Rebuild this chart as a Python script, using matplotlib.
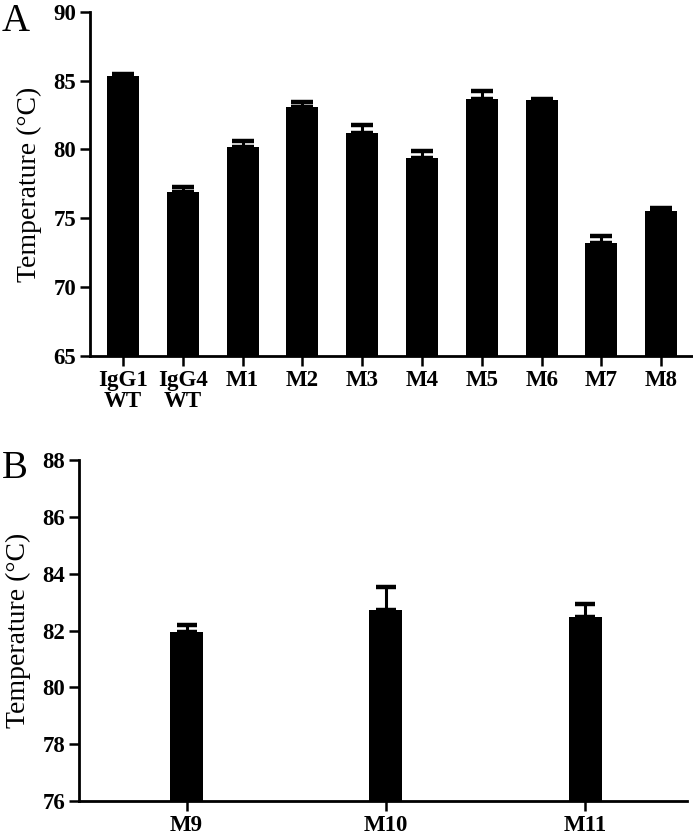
import numpy as np
import matplotlib.pyplot as plt

plt.rcParams['font.family'] = ['Liberation Serif', 'DejaVu Serif']

# panel A data
labels_a = ['IgG1\nWT', 'IgG4\nWT', 'M1', 'M2', 'M3', 'M4', 'M5', 'M6', 'M7', 'M8']
temp_a = [85.3, 76.9, 80.2, 83.1, 81.2, 79.4, 83.7, 83.6, 73.2, 75.5]
err_a = [0.2, 0.4, 0.4, 0.35, 0.6, 0.5, 0.55, 0.1, 0.55, 0.25]

# panel B data
labels_b = ['M9', 'M10', 'M11']
temp_b = [81.95, 82.72, 82.47]
err_b = [0.25, 0.8, 0.45]

fig = plt.figure(figsize=(6.93, 8.38), dpi=100)


def style(ax):
    for s in ['top', 'right']:
        ax.spines[s].set_visible(False)
    for s in ['left', 'bottom']:
        ax.spines[s].set_linewidth(2.0)
    ax.tick_params(direction='out', length=7, width=1.8, labelsize=16.5, pad=3)
    for lab in ax.get_xticklabels() + ax.get_yticklabels():
        lab.set_fontweight('bold')
    ax.set_ylabel('Temperature (°C)', fontsize=20, labelpad=8)


# ---- A ----
axA = fig.add_axes([0.130, 0.575, 0.870, 0.411])
xa = np.arange(len(labels_a))
axA.bar(xa, temp_a, width=0.535, color='black', bottom=0)
axA.errorbar(xa, temp_a, yerr=[np.zeros(len(err_a)), err_a], fmt='none',
             ecolor='black', elinewidth=2.2, capsize=8, capthick=3.2)
axA.set_ylim(65, 90)
axA.set_yticks([65, 70, 75, 80, 85, 90])
axA.set_xlim(-0.55, 9.53)
axA.set_xticks(xa)
axA.set_xticklabels(labels_a, linespacing=1.0)
style(axA)
fig.text(0.003, 0.997, 'A', fontsize=28, va='top', ha='left')

# ---- B ----
axB = fig.add_axes([0.114, 0.0442, 0.877, 0.4068])
xb = np.arange(len(labels_b))
axB.bar(xb, temp_b, width=0.165, color='black')
axB.errorbar(xb, temp_b, yerr=[np.zeros(len(err_b)), err_b], fmt='none',
             ecolor='black', elinewidth=2.2, capsize=7, capthick=3.2)
axB.set_ylim(76, 88)
axB.set_yticks([76, 78, 80, 82, 84, 86, 88])
axB.set_xlim(-0.54, 2.51)
axB.set_xticks(xb)
axB.set_xticklabels(labels_b)
style(axB)
fig.text(0.003, 0.463, 'B', fontsize=28, va='top', ha='left')

fig.savefig('out.png', dpi=100)
